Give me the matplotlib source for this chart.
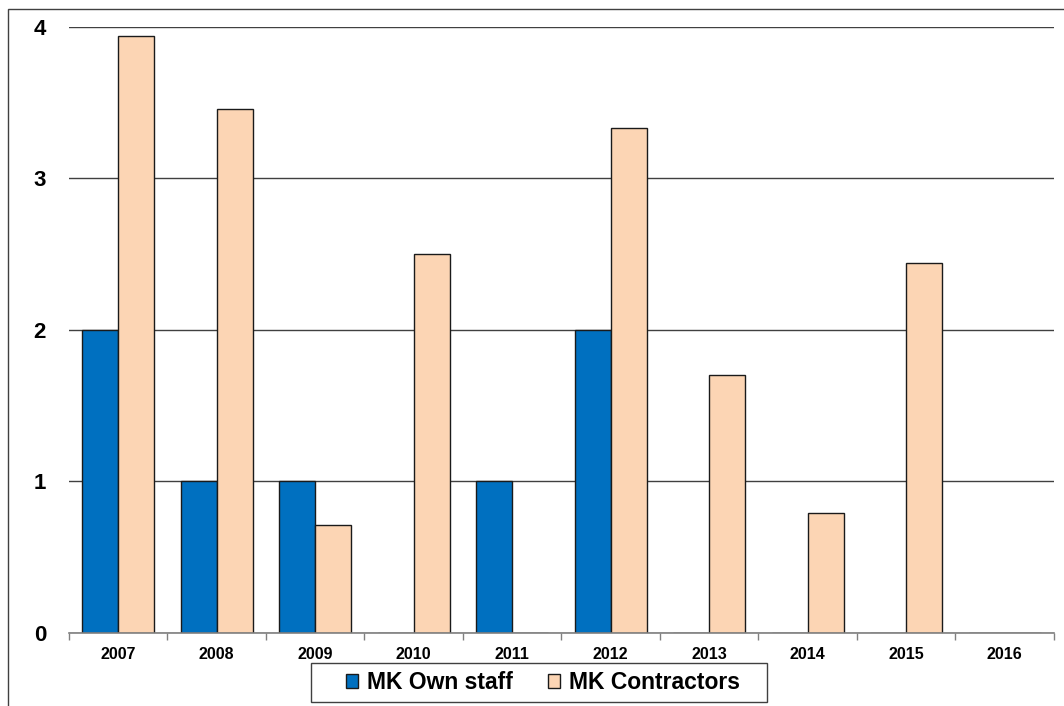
import matplotlib
matplotlib.use("Agg")
import matplotlib.pyplot as plt
import numpy as np
from matplotlib.patches import Rectangle

years = ["2007", "2008", "2009", "2010", "2011", "2012", "2013", "2014", "2015", "2016"]
own_staff = [2, 1, 1, 0, 1, 2, 0, 0, 0, 0]
contractors = [3.94, 3.46, 0.71, 2.50, 0, 3.33, 1.70, 0.79, 2.44, 0]
series_names = ["MK Own staff", "MK Contractors"]
y_ticks = [0, 1, 2, 3, 4]

plt.rcParams["font.family"] = ["Liberation Sans", "DejaVu Sans"]
plt.rcParams["font.weight"] = "bold"

W, H = 1064, 706
fig = plt.figure(figsize=(W / 100, H / 100), dpi=100)
ax = fig.add_axes([0.0648, 0.1034, 0.9258, 0.8584])

# outer frame around the chart
fig.patches.append(Rectangle((7.5 / W, -0.02), 1.05, 1 - 9 / H + 0.02,
                             transform=fig.transFigure, fill=False,
                             edgecolor="#404040", linewidth=1.0, zorder=0))

x = np.arange(len(years))
w = 0.366
ax.bar(x - w / 2, own_staff, width=w, color="#0070C0", edgecolor="#1a1a1a",
       linewidth=1.0, label=series_names[0], zorder=3)
ax.bar(x + w / 2, contractors, width=w, color="#FCD5B4", edgecolor="#1a1a1a",
       linewidth=1.0, label=series_names[1], zorder=3)

ax.set_xlim(-0.5, len(years) - 0.5)
ax.set_ylim(0, 4)
ax.set_yticks(y_ticks)
ax.set_yticklabels([str(t) for t in y_ticks], fontsize=16, fontweight="bold")
ax.tick_params(axis="y", length=0, pad=16.5)

ax.set_xticks(x)
ax.set_xticklabels(years, fontsize=11.5, fontweight="bold")
ax.set_xticks(np.arange(len(years) + 1) - 0.5, minor=True)
ax.tick_params(axis="x", which="major", length=0, pad=10)
ax.tick_params(axis="x", which="minor", length=5, color="#808080", width=1)

ax.yaxis.grid(True, color="#404040", linewidth=1.0, zorder=0)
ax.set_axisbelow(True)
for s in ["left", "right", "top"]:
    ax.spines[s].set_visible(False)
ax.spines["bottom"].set_color("#808080")
ax.spines["bottom"].set_linewidth(1.2)
ax.spines["bottom"].set_zorder(4)

# legend box and entries
fig.patches.append(Rectangle((311 / W, 1 - 702 / H), 456 / W, 39 / H,
                             transform=fig.transFigure, facecolor="white",
                             edgecolor="#404040", linewidth=1.0, zorder=1))
leg = fig.legend(loc="center", bbox_to_anchor=(543 / W, 1 - 682.5 / H), ncol=2,
                 frameon=False, prop={"size": 16.5, "weight": "bold"},
                 handlelength=0.55, handleheight=0.55, handletextpad=0.4,
                 columnspacing=1.5, borderpad=0.2)

fig.savefig("out.png", dpi=100)
